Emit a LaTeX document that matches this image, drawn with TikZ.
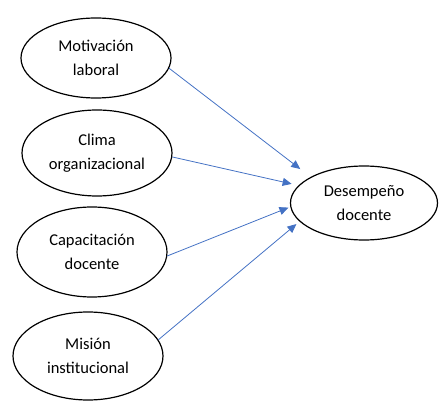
\documentclass[tikz,border=0pt]{standalone}
\usepackage{fontspec}
\setmainfont{Carlito}
\usepackage{tikz}
\usetikzlibrary{shapes.geometric, arrows.meta}
\definecolor{arrowblue}{HTML}{4472C4}

\begin{document}
\begin{tikzpicture}[
  x=1pt, y=-1pt,
  var/.style={ellipse, draw=black, line width=1.2pt, inner sep=0pt, minimum width=150pt, minimum height=86pt, align=center, font=\fontsize{16.5}{24}\selectfont},
  arr/.style={-{Triangle[length=9pt,width=8pt]}, arrowblue, line width=0.8pt}
]
\useasboundingbox (0,0) rectangle (440,401);

% Independent variables
\node[var, minimum height=80pt] (mot) at (96,58) {Motivación\\laboral};
\node[var] (clima) at (97,153) {Clima\\organizacional};
\node[var, minimum height=90pt] (cap) at (92,252) {Capacitación\\docente};
\node[var, minimum height=88pt] (mis) at (88,356) {Misión\\institucional};

% Dependent variable
\node[var, minimum width=147pt, minimum height=74pt] (des) at (364,203) {Desempeño\\docente};

\draw[arr, shorten >=13pt] (mot.-8) -- (des.154);
\draw[arr, shorten >=7pt] (clima.-3) -- (des.165);
\draw[arr, shorten >=2pt] (cap.-3) -- (des.183);
\draw[arr, shorten >=4pt] (mis.13) -- (des.196);

\end{tikzpicture}
\end{document}
